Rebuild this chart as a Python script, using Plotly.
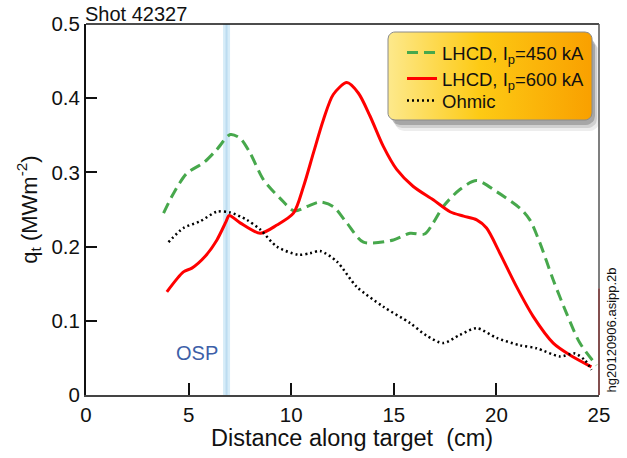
import numpy as np
import plotly.graph_objects as go

# ---------------- data ----------------
x_lh450 = [3.78, 4.27, 4.92, 5.73, 6.38, 7.03, 7.51, 8.0, 8.65, 9.46, 10.15, 10.76, 11.41, 12.05,
           12.71, 13.52, 14.98, 15.79, 16.5, 16.92, 17.41, 18.22, 19.04, 20.01, 21.14, 21.63,
           22.12, 22.77, 23.42, 24.07, 24.88]
y_lh450 = [0.245, 0.272, 0.299, 0.313, 0.331, 0.351, 0.346, 0.326, 0.290, 0.265, 0.248, 0.254, 0.260, 0.254,
           0.232, 0.206, 0.209, 0.218, 0.217, 0.232, 0.254, 0.277, 0.289, 0.274, 0.252, 0.236,
           0.205, 0.155, 0.110, 0.070, 0.040]

x_lh600 = [3.94, 4.75, 5.16, 5.81, 6.38, 6.83, 6.98, 7.51, 8.49, 9.30, 10.11, 10.6, 11.08, 11.57,
           12.05, 12.71, 13.27, 13.84, 14.49, 15.14, 15.95, 16.92, 17.74, 18.4, 19.04, 19.52,
           20.17, 20.98, 21.79, 22.77, 23.58, 24.63]
y_lh600 = [0.139, 0.166, 0.171, 0.187, 0.209, 0.234, 0.242, 0.232, 0.218, 0.229, 0.245, 0.281, 0.326, 0.371,
           0.405, 0.421, 0.407, 0.376, 0.335, 0.304, 0.281, 0.263, 0.247, 0.241, 0.236, 0.225,
           0.191, 0.146, 0.106, 0.070, 0.054, 0.038]

x_ohm = [4.02, 4.75, 5.56, 6.38, 7.03, 7.84, 8.49, 9.30, 10.35, 10.92, 11.41, 12.22, 13.19, 14.49,
         15.79, 16.6, 17.41, 18.22, 19.04, 20.01, 21.14, 21.96, 23.09, 23.82, 24.31, 24.63]
y_ohm = [0.206, 0.225, 0.234, 0.247, 0.246, 0.236, 0.223, 0.200, 0.189, 0.191, 0.194, 0.180, 0.146, 0.119,
         0.097, 0.080, 0.070, 0.081, 0.090, 0.077, 0.067, 0.063, 0.052, 0.056, 0.047, 0.034]

osp_x = 6.85
x_ticks = [0, 5, 10, 15, 20, 25]
y_ticks = [0, 0.1, 0.2, 0.3, 0.4, 0.5]
names = ["LHCD, I<sub>p</sub>=450 kA", "LHCD, I<sub>p</sub>=600 kA", "Ohmic"]

FONT = "Liberation Sans, Arial, Helvetica, sans-serif"
W, H = 627, 458
ML, MR, MT, MB = 86, 28, 24, 63
PW, PH = W - ML - MR, H - MT - MB

fig = go.Figure()

fig.add_trace(go.Scatter(x=x_lh450, y=y_lh450, mode="lines", name=names[0], legend="legend",
                         line=dict(color="#47a84c", width=3, dash="11px,6px", shape="spline", smoothing=0.8)))
fig.add_trace(go.Scatter(x=x_lh600, y=y_lh600, mode="lines", name=names[1], legend="legend2",
                         line=dict(color="#ff0000", width=3, shape="spline", smoothing=0.8)))
fig.add_trace(go.Scatter(x=x_ohm, y=y_ohm, mode="lines", name=names[2], legend="legend3",
                         line=dict(color="#000000", width=2.5, dash="2px,3px", shape="spline", smoothing=0.8)))


# ---------- legend box (decoration, in plot-area fraction coords) ----------
def rounded_box(x0p, y0p, x1p, y1p, r=7):
    pts = []
    corners = [(x1p - r, y0p + r, -90, 0), (x1p - r, y1p - r, 0, 90),
               (x0p + r, y1p - r, 90, 180), (x0p + r, y0p + r, 180, 270)]
    for cx, cy, a0, a1 in corners:
        for a in np.linspace(np.radians(a0), np.radians(a1), 8):
            pts.append((cx + r * np.cos(a), cy + r * np.sin(a)))
    pts.append(pts[0])
    xs = [(p[0] - ML) / PW for p in pts]
    ys = [(H - MB - p[1]) / PH for p in pts]
    return xs, ys


bx0, by0, bx1, by1 = 388, 32, 592, 120
for dx, dy, a in [(7, 11, 0.07), (5, 8, 0.12), (3, 5, 0.2)]:
    xs, ys = rounded_box(bx0 + dx, by0 + dy, bx1 + dx, by1 + dy, 9)
    fig.add_trace(go.Scatter(x=xs, y=ys, xaxis="x2", yaxis="y2", mode="lines", fill="toself",
                             fillcolor=f"rgba(0,0,0,{a})", line=dict(width=0),
                             showlegend=False, hoverinfo="skip"))
xs, ys = rounded_box(bx0, by0, bx1, by1, 7)
fig.add_trace(go.Scatter(x=xs, y=ys, xaxis="x2", yaxis="y2", mode="lines", fill="toself",
                         fillgradient=dict(type="horizontal",
                                           colorscale=[[0, "#fde98c"], [0.45, "#fdca14"], [1, "#f9a000"]]),
                         line=dict(color="#8a8a8a", width=1),
                         showlegend=False, hoverinfo="skip"))

shapes = [
    # OSP band
    dict(type="rect", xref="x", yref="y", x0=osp_x - 0.17, x1=osp_x + 0.17, y0=0, y1=0.5,
         fillcolor="#d6ecf8", line=dict(width=0), layer="below"),
    dict(type="line", xref="x", yref="y", x0=osp_x, x1=osp_x, y0=0, y1=0.5,
         line=dict(color="#bcdcf0", width=2), layer="below"),
    # frame top/right
    dict(type="line", xref="paper", yref="paper", x0=0, x1=1, y0=1, y1=1,
         line=dict(color="#111111", width=1.5)),
    dict(type="line", xref="paper", yref="y", x0=1, x1=1, y0=0.144, y1=0.5,
         line=dict(color="#555555", width=1.5)),
    dict(type="line", xref="paper", yref="y", x0=1, x1=1, y0=0, y1=0.144,
         line=dict(color="#5a1414", width=1.5)),
]

annotations = [
    dict(text="Shot 42327", xref="paper", yref="paper", x=0, y=1.0, xanchor="left", yanchor="bottom",
         showarrow=False, font=dict(family=FONT, size=20, color="#111111"), yshift=-3, xshift=-3),
    dict(text="OSP", xref="x", yref="y", x=osp_x - 0.3, y=0.056, xanchor="right", yanchor="middle",
         showarrow=False, font=dict(family=FONT, size=20, color="#3d5fa8")),
    dict(text="hg20120906.asipp.2b", xref="paper", yref="paper", x=(611 - ML) / PW, y=0,
         xanchor="center", yanchor="bottom", textangle=-90, showarrow=False,
         font=dict(family=FONT, size=13, color="#111111")),
    dict(text="Distance along target \u00a0(cm)", xref="paper", yref="paper",
         x=(351.5 - ML) / PW, y=-(438 - (H - MB)) / PH, xanchor="center", yanchor="middle",
         showarrow=False, font=dict(family=FONT, size=23.5, color="#111111")),
]


def leg(row_y):
    return dict(x=(402 - ML) / PW, y=(H - MB - row_y) / PH, xanchor="left", yanchor="middle",
                bgcolor="rgba(0,0,0,0)", borderwidth=0,
                font=dict(family=FONT, size=18.5, color="#111111"))


fig.update_layout(
    width=W, height=H,
    margin=dict(l=ML, r=MR, t=MT, b=MB, pad=0),
    paper_bgcolor="white", plot_bgcolor="white",
    font=dict(family=FONT, color="#111111"),
    showlegend=True,
    legend=leg(53),
    legend2=leg(79),
    legend3=leg(101),
    xaxis=dict(range=[0, 25], tickvals=x_ticks, ticktext=[str(v) for v in x_ticks],
               ticks="inside", ticklen=12, tickwidth=2, tickcolor="#111111",
               showline=True, linecolor="#444444", linewidth=2, showgrid=False, zeroline=False,
               tickfont=dict(family=FONT, size=20.5, color="#111111")),
    yaxis=dict(range=[0, 0.5], tickvals=y_ticks, ticktext=["0", "0.1", "0.2", "0.3", "0.4", "0.5"],
               ticks="inside", ticklen=11, tickwidth=2, tickcolor="#111111",
               showline=True, linecolor="#111111", linewidth=2, showgrid=False, zeroline=False,
               tickfont=dict(family=FONT, size=20.5, color="#111111"),
               title=dict(text="q<sub>t</sub> (MWm<sup>-2</sup>)", standoff=8,
                          font=dict(family=FONT, size=22, color="#111111"))),
    xaxis2=dict(overlaying="x", range=[0, 1], visible=False, domain=[0, 1]),
    yaxis2=dict(overlaying="y", range=[0, 1], visible=False, domain=[0, 1]),
    shapes=shapes,
    annotations=annotations,
)

fig.write_html("out.html")
